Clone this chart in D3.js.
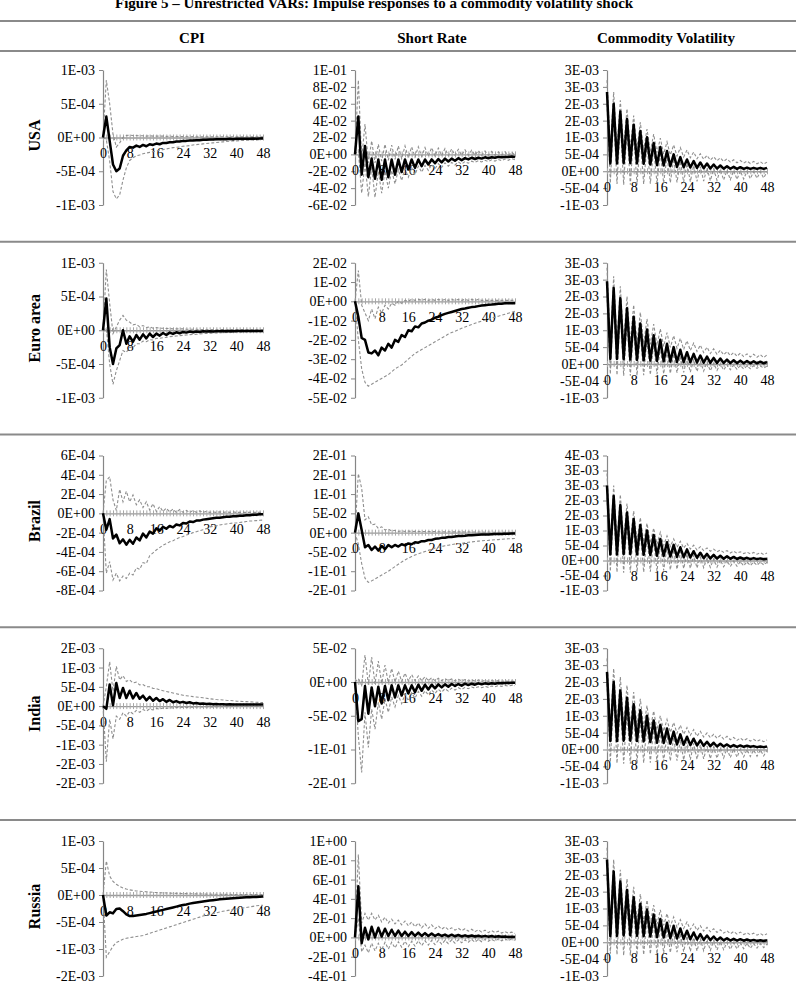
<!DOCTYPE html>
<html>
<head>
<meta charset="utf-8">
<script src="https://cdn.jsdelivr.net/npm/d3@7"></script>
<style>
  body { margin: 0; background: #fff; }
  svg { display: block; font-family: "Liberation Serif", "Times New Roman", serif; }
</style>
</head>
<body>
<svg id="chart" width="796" height="1007"></svg>
<script>
// horizons 0..48 (months after the shock)
const horizons = d3.range(0, 49);
const rowNames = ["USA", "Euro area", "Brazil", "India", "Russia"];
const colNames = ["CPI", "Short Rate", "Commodity Volatility"];

// ---- USA ---- (CPI & volatility in 1E-04, rate in 1E-02)
const usaCpi = [0, 3.1, -0.5, -4.0, -5.0, -4.6, -2.7,
  -1.9, -1.4, -1.5, -1.2, -1.4, -1.1, -1.3,
  -1.0, -1.1, -0.9, -1.0, -0.8, -0.8, -0.7,
  -0.7, -0.6, -0.6, -0.5, -0.5, -0.45, -0.45,
  -0.4, -0.4, -0.35, -0.35, -0.3, -0.3, -0.25,
  -0.25, -0.25, -0.25, -0.2, -0.25, -0.2, -0.2,
  -0.2, -0.2, -0.2, -0.15, -0.2, -0.15, -0.1];
const usaCpiHi = [0, 8.5, 5.0, 0.5, -1.4, -0.8, 0.0,
  0.3, 0.35, 0.3, 0.3, 0.25, 0.25, 0.2,
  0.25, 0.2, 0.2, 0.2, 0.2, 0.15, 0.2,
  0.15, 0.15, 0.15, 0.15, 0.15, 0.1, 0.15,
  0.1, 0.1, 0.1, 0.1, 0.1, 0.1, 0.1,
  0.1, 0.1, 0.1, 0.1, 0.1, 0.1, 0.1,
  0.1, 0.1, 0.1, 0.1, 0.1, 0.1, 0.1];
const usaCpiLo = [0, -0.3, -3.5, -8.0, -9.1, -8.5, -6.3,
  -4.5, -3.4, -3.0, -2.7, -2.6, -2.4, -2.3,
  -2.2, -2.1, -2.0, -1.9, -1.8, -1.7, -1.6,
  -1.5, -1.45, -1.4, -1.3, -1.25, -1.2, -1.1,
  -1.05, -1.0, -0.95, -0.9, -0.85, -0.8, -0.75,
  -0.7, -0.65, -0.6, -0.55, -0.5, -0.5, -0.45,
  -0.45, -0.4, -0.4, -0.35, -0.35, -0.3, -0.3];

const usaRate = [0, 4.5, -2.4, 1.0, -2.7, -0.5, -2.9,
  -0.6, -3.0, -0.6, -2.7, -0.6, -2.4, -0.6,
  -2.1, -0.6, -1.8, -0.6, -1.6, -0.6, -1.4,
  -0.6, -1.2, -0.6, -1.05, -0.55, -0.95, -0.5,
  -0.85, -0.5, -0.75, -0.45, -0.7, -0.45, -0.6,
  -0.4, -0.55, -0.4, -0.5, -0.35, -0.45, -0.35,
  -0.4, -0.3, -0.35, -0.3, -0.3, -0.25, -0.3];
const usaRateHi = [0, 8.8, -0.5, 3.6, -1.0, 1.6, -1.0,
  1.2, -0.8, 1.2, -0.7, 1.1, -0.6, 1.0,
  -0.5, 1.0, -0.4, 0.9, -0.3, 0.9, -0.25,
  0.8, -0.2, 0.8, -0.2, 0.75, -0.15, 0.7,
  -0.15, 0.65, -0.1, 0.6, -0.1, 0.55, -0.1,
  0.5, -0.1, 0.45, -0.1, 0.4, -0.1, 0.35,
  -0.1, 0.3, -0.1, 0.3, -0.1, 0.25, -0.1];
const usaRateLo = [0, 0.5, -4.6, -1.0, -5.0, -1.5, -5.1,
  -2.0, -4.6, -2.0, -4.0, -1.9, -3.5, -1.8,
  -3.1, -1.7, -2.7, -1.6, -2.4, -1.4, -2.1,
  -1.3, -1.9, -1.2, -1.7, -1.1, -1.55, -1.0,
  -1.4, -0.95, -1.25, -0.9, -1.15, -0.85, -1.05,
  -0.8, -0.95, -0.75, -0.9, -0.7, -0.85, -0.65,
  -0.8, -0.6, -0.75, -0.55, -0.7, -0.5, -0.65];

const usaVol = [23.5, 2.3, 20, 2.3, 17.7, 2.4, 15.5,
  2.4, 13.8, 2.3, 11.9, 2.2, 10.1, 2.0,
  8.4, 1.8, 7.2, 1.7, 6.0, 1.5, 5.0,
  1.3, 4.2, 1.2, 3.5, 1.1, 3.0, 1.0,
  2.6, 0.9, 2.3, 0.8, 2.0, 0.8, 1.7,
  0.75, 1.5, 0.75, 1.3, 0.7, 1.2, 0.7,
  1.1, 0.7, 1.0, 0.7, 1.0, 0.7, 1.0];
const usaVolHi = [27, 6, 23.5, 6.5, 21, 6.8, 18.5,
  6.8, 16.5, 6.6, 14.5, 6.2, 12.5, 5.8,
  11, 5.5, 9.8, 5.1, 8.7, 4.8, 7.8,
  4.5, 7, 4.2, 6.3, 4, 5.7, 3.7,
  5.2, 3.5, 4.7, 3.3, 4.3, 3.1, 4,
  2.9, 3.7, 2.7, 3.4, 2.5, 3.2, 2.4,
  3, 2.3, 2.9, 2.2, 2.8, 2.1, 2.7];
const usaVolLo = [20, -3.5, 16.5, -3.8, 14.5, -4.0, 12.5,
  -4.0, 11, -3.9, 9.5, -3.8, 8, -3.7,
  6.7, -3.6, 5.6, -3.5, 4.6, -3.4, 3.7,
  -3.3, 3.0, -3.2, 2.3, -3.1, 1.8, -3.0,
  1.4, -2.9, 1.0, -2.8, 0.7, -2.7, 0.5,
  -2.6, 0.3, -2.5, 0.2, -2.4, 0.1, -2.3,
  0, -2.2, -0.1, -2.1, -0.1, -2.0, -0.2];

// ---- Euro area ---- (CPI & volatility in 1E-04, rate in 1E-02)
const euCpi = [0, 4.7, -2.5, -5.0, -2.7, -2.2, 0,
  -2.0, -0.9, -1.7, -0.7, -1.4, -0.6, -1.2,
  -0.5, -1.0, -0.5, -0.8, -0.4, -0.7, -0.35,
  -0.55, -0.3, -0.45, -0.25, -0.35, -0.2, -0.3,
  -0.2, -0.25, -0.15, -0.2, -0.15, -0.2, -0.15,
  -0.15, -0.1, -0.15, -0.1, -0.15, -0.1, -0.1,
  -0.1, -0.1, -0.1, -0.1, -0.1, -0.1, -0.1];
const euCpiHi = [0, 9.0, 4.0, -0.5, 0.5, 1.5, 2.2,
  1.5, 1.2, 0.8, 0.9, 0.5, 0.7, 0.4,
  0.5, 0.3, 0.4, 0.3, 0.3, 0.25, 0.25,
  0.2, 0.2, 0.2, 0.2, 0.15, 0.15, 0.15,
  0.15, 0.1, 0.1, 0.1, 0.1, 0.1, 0.1,
  0.1, 0.1, 0.1, 0.1, 0.1, 0.1, 0.1,
  0.1, 0.1, 0.1, 0.05, 0.1, 0.05, 0.05];
const euCpiLo = [0, 0.3, -5.0, -8.0, -6.0, -4.5, -3.0,
  -3.3, -2.5, -2.6, -2.0, -2.0, -1.6, -1.7,
  -1.4, -1.45, -1.2, -1.2, -1.1, -1.05, -0.95,
  -0.9, -0.85, -0.8, -0.75, -0.7, -0.65, -0.62,
  -0.6, -0.55, -0.5, -0.48, -0.45, -0.43, -0.4,
  -0.38, -0.36, -0.34, -0.32, -0.3, -0.3, -0.28,
  -0.27, -0.26, -0.25, -0.24, -0.23, -0.22, -0.2];

const euRate = [0, -0.8, -1.9, -2.0, -2.65, -2.7, -2.55,
  -2.8, -2.4, -2.55, -2.2, -2.4, -2.0, -2.1,
  -1.75, -1.85, -1.5, -1.55, -1.3, -1.35, -1.15,
  -1.1, -1.0, -0.95, -0.85, -0.8, -0.72, -0.65,
  -0.6, -0.55, -0.5, -0.45, -0.4, -0.37, -0.33,
  -0.3, -0.28, -0.25, -0.22, -0.2, -0.18, -0.17,
  -0.15, -0.13, -0.12, -0.1, -0.1, -0.1, -0.1];
const euRateHi = [0, 1.6, -0.2, -0.6, -1.0, -0.4, -0.9,
  -0.3, -0.6, -0.2, -0.4, -0.1, -0.2, 0,
  -0.1, 0.05, 0, 0.1, 0.05, 0.1, 0.05,
  0.1, 0.05, 0.1, 0.05, 0.1, 0.05, 0.1,
  0.05, 0.1, 0.05, 0.1, 0.05, 0.1, 0.05,
  0.1, 0.05, 0.1, 0.05, 0.05, 0.05, 0.05,
  0.05, 0.05, 0.05, 0.05, 0.05, 0.05, 0.05];
const euRateLo = [0, -2.0, -3.5, -4.2, -4.4, -4.3, -4.2,
  -4.1, -4.0, -3.9, -3.8, -3.65, -3.5, -3.4,
  -3.3, -3.15, -3.0, -2.85, -2.7, -2.6, -2.5,
  -2.4, -2.3, -2.2, -2.1, -2.0, -1.9, -1.8,
  -1.7, -1.62, -1.55, -1.47, -1.4, -1.33, -1.27,
  -1.2, -1.14, -1.08, -1.02, -0.97, -0.92, -0.87,
  -0.82, -0.77, -0.72, -0.67, -0.62, -0.57, -0.52];

const euVol = [24.5, 1.5, 22.5, 1.5, 19.5, 1.4, 16.5,
  1.3, 14, 1.2, 12, 1.1, 10.2, 1.0,
  8.5, 0.9, 7.2, 0.8, 6, 0.7, 5,
  0.6, 4.2, 0.55, 3.5, 0.5, 3, 0.45,
  2.5, 0.4, 2.2, 0.35, 1.8, 0.3, 1.6,
  0.3, 1.3, 0.25, 1.1, 0.25, 1.0, 0.2,
  0.9, 0.2, 0.8, 0.2, 0.7, 0.2, 0.6];
const euVolHi = [28.5, 5.5, 26, 6, 23, 6.3, 20,
  6.3, 17.5, 6.2, 15.3, 6.0, 13.4, 5.8,
  11.8, 5.5, 10.4, 5.2, 9.3, 4.9, 8.4,
  4.6, 7.6, 4.3, 6.9, 4.0, 6.2, 3.7,
  5.6, 3.4, 5.0, 3.1, 4.5, 2.9, 4.1,
  2.7, 3.7, 2.5, 3.4, 2.3, 3.2, 2.2,
  3.0, 2.1, 2.9, 2.0, 2.8, 1.9, 2.7];
const euVolLo = [20.5, -3, 19, -3.3, 16, -3.5, 13,
  -3.5, 10.8, -3.4, 9, -3.3, 7.4, -3.2,
  6, -3.0, 4.8, -2.9, 3.8, -2.8, 3,
  -2.6, 2.3, -2.5, 1.7, -2.4, 1.2, -2.2,
  0.8, -2.1, 0.5, -2.0, 0.2, -1.9, 0,
  -1.8, -0.2, -1.7, -0.3, -1.6, -0.4, -1.5,
  -0.5, -1.4, -0.5, -1.3, -0.6, -1.2, -0.6];

// ---- Brazil ---- (CPI & volatility in 1E-04, rate in 1E-02)
const brCpi = [0, -1.7, -0.6, -2.6, -2.2, -3.1, -2.7,
  -3.25, -2.75, -3.15, -2.5, -2.8, -2.1, -2.5,
  -1.9, -2.1, -1.55, -1.8, -1.4, -1.6, -1.3,
  -1.45, -1.15, -1.25, -1.0, -1.05, -0.85, -0.9,
  -0.75, -0.75, -0.65, -0.6, -0.55, -0.5, -0.45,
  -0.45, -0.4, -0.35, -0.35, -0.3, -0.3, -0.25,
  -0.25, -0.2, -0.2, -0.15, -0.15, -0.1, -0.1];
const brCpiHi = [0, 3.4, 3.8, 1.4, 0.3, 2.5, 1.2,
  2.3, 1.2, 1.9, 0.9, 1.4, 0.6, 1.2,
  0.35, 1.0, 0.2, 0.7, 0.2, 0.55, 0.15,
  0.45, 0.1, 0.4, 0.1, 0.3, 0.1, 0.3,
  0.1, 0.25, 0.1, 0.2, 0.1, 0.15, 0.1,
  0.15, 0.1, 0.15, 0.1, 0.15, 0.1, 0.1,
  0.1, 0.1, 0.1, 0.1, 0.1, 0.1, 0.1];
const brCpiLo = [0, -6.2, -5.0, -6.9, -6.2, -7.0, -6.5,
  -6.75, -6.2, -6.4, -5.65, -5.8, -5.1, -5.2,
  -4.4, -4.1, -3.8, -3.55, -3.3, -3.15, -2.95,
  -2.85, -2.65, -2.5, -2.4, -2.25, -2.15, -2.0,
  -1.9, -1.8, -1.7, -1.6, -1.4, -1.35, -1.3,
  -1.2, -1.15, -1.1, -1.05, -1.0, -1.0, -0.95,
  -0.9, -0.85, -0.8, -0.78, -0.75, -0.72, -0.7];

const brRate = [0, 5.0, 0.7, -3.8, -3.2, -4.5, -3.6,
  -4.65, -3.45, -4.3, -3.2, -3.8, -3.2, -3.6,
  -3.0, -3.3, -2.8, -3.0, -2.5, -2.6, -2.2,
  -2.2, -1.9, -1.9, -1.6, -1.55, -1.35, -1.3,
  -1.15, -1.1, -1.0, -0.9, -0.85, -0.8, -0.7,
  -0.7, -0.6, -0.55, -0.5, -0.5, -0.45, -0.4,
  -0.38, -0.35, -0.32, -0.3, -0.28, -0.25, -0.25];
const brRateHi = [0, 15.3, 11.5, 3.3, 4.1, 2.0, 2.2,
  1.1, 1.5, 0.7, 0.9, 0.4, 0.6, 0.3,
  0.5, 0.3, 0.4, 0.3, 0.35, 0.3, 0.3,
  0.3, 0.3, 0.25, 0.3, 0.25, 0.25, 0.2,
  0.25, 0.2, 0.2, 0.2, 0.2, 0.15, 0.2,
  0.15, 0.15, 0.15, 0.15, 0.1, 0.15, 0.1,
  0.1, 0.1, 0.1, 0.1, 0.1, 0.1, 0.1];
const brRateLo = [0, -3.0, -8.0, -11.8, -12.9, -12.5, -12.0,
  -11.5, -11.0, -10.5, -10.0, -9.4, -8.8, -8.2,
  -7.6, -7.1, -6.6, -6.2, -5.8, -5.5, -5.2,
  -4.9, -4.6, -4.3, -4.0, -3.8, -3.6, -3.4,
  -3.25, -3.1, -2.95, -2.85, -2.75, -2.6, -2.5,
  -2.4, -2.3, -2.2, -2.1, -2.05, -2.0, -1.9,
  -1.85, -1.8, -1.7, -1.65, -1.6, -1.55, -1.5];

const brVol = [25, 2, 21.5, 2, 18.5, 2.1, 16,
  2.1, 13.8, 2, 11.8, 1.9, 10, 1.8,
  8.5, 1.6, 7.2, 1.5, 6.1, 1.3, 5.2,
  1.2, 4.4, 1.1, 3.7, 1.0, 3.1, 0.9,
  2.6, 0.8, 2.2, 0.7, 1.9, 0.65, 1.6,
  0.6, 1.4, 0.55, 1.2, 0.5, 1.0, 0.5,
  0.9, 0.45, 0.8, 0.45, 0.7, 0.4, 0.6];
const brVolHi = [29, 6, 25, 6.4, 22, 6.6, 19,
  6.6, 16.5, 6.4, 14.3, 6.1, 12.4, 5.8,
  10.8, 5.4, 9.4, 5.0, 8.2, 4.7, 7.2,
  4.4, 6.4, 4.1, 5.7, 3.8, 5.1, 3.5,
  4.6, 3.3, 4.2, 3.1, 3.8, 2.9, 3.5,
  2.7, 3.3, 2.5, 3.1, 2.4, 2.9, 2.3,
  2.8, 2.2, 2.7, 2.1, 2.6, 2.0, 2.5];
const brVolLo = [21, -3.6, 18, -3.9, 15.5, -4.1, 13.2,
  -4.1, 11.3, -4.0, 9.6, -3.9, 8.0, -3.7,
  6.7, -3.5, 5.5, -3.3, 4.5, -3.1, 3.6,
  -2.9, 2.9, -2.7, 2.2, -2.6, 1.7, -2.5,
  1.2, -2.4, 0.8, -2.3, 0.5, -2.2, 0.2,
  -2.1, 0, -2.0, -0.2, -1.9, -0.3, -1.8,
  -0.4, -1.7, -0.5, -1.6, -0.5, -1.5, -0.6];

// ---- India ---- (CPI & volatility in 1E-04, rate in 1E-02)
const inCpi = [0, -0.7, 5.6, 0.2, 6.0, 2.1, 4.7,
  2.1, 4.0, 2.0, 3.4, 1.9, 2.7, 1.5,
  2.4, 1.4, 2.1, 1.3, 1.8, 1.1, 1.6,
  1.0, 1.3, 0.9, 1.1, 0.8, 1.0, 0.7,
  0.8, 0.6, 0.7, 0.55, 0.6, 0.5, 0.55,
  0.45, 0.5, 0.4, 0.45, 0.4, 0.4, 0.4,
  0.4, 0.4, 0.4, 0.4, 0.4, 0.4, 0.4];
const inCpiHi = [0, 5.0, 11.5, 3.8, 10.3, 6.8, 7.9,
  6.4, 6.8, 6.0, 6.2, 5.5, 5.6, 5.0,
  5.0, 4.6, 4.5, 4.2, 4.0, 3.8, 3.6,
  3.4, 3.2, 3.0, 2.8, 2.7, 2.6, 2.45,
  2.35, 2.25, 2.15, 2.05, 1.9, 1.8, 1.7,
  1.65, 1.6, 1.5, 1.45, 1.4, 1.3, 1.25,
  1.2, 1.15, 1.1, 1.05, 1.0, 0.95, 0.9];
const inCpiLo = [0, -14.4, -3.4, -8.5, -2.6, -3.4, -1.7,
  -2.6, -1.4, -2.0, -1.1, -1.6, -0.9, -1.3,
  -0.7, -1.0, -0.6, -0.8, -0.5, -0.6, -0.4,
  -0.5, -0.35, -0.4, -0.3, -0.35, -0.3, -0.3,
  -0.25, -0.25, -0.2, -0.25, -0.2, -0.2, -0.2,
  -0.15, -0.15, -0.15, -0.15, -0.1, -0.1, -0.1,
  -0.1, -0.1, -0.1, -0.1, -0.1, -0.1, -0.1];

const inRate = [0, -5.8, -5.5, -0.6, -4.7, -0.8, -3.6,
  -0.7, -3.2, -0.6, -2.7, -0.5, -2.3, -0.5,
  -2.0, -0.5, -1.7, -0.5, -1.5, -0.4, -1.3,
  -0.4, -1.1, -0.4, -0.95, -0.35, -0.8, -0.35,
  -0.7, -0.3, -0.6, -0.3, -0.55, -0.25, -0.45,
  -0.25, -0.4, -0.2, -0.35, -0.2, -0.3, -0.2,
  -0.25, -0.15, -0.2, -0.15, -0.15, -0.1, -0.1];
const inRateHi = [0, 0.5, -0.5, 4.0, -0.4, 3.7, -0.3,
  3.1, -0.2, 2.5, -0.1, 2.0, 0, 1.6,
  0.1, 1.3, 0.15, 1.1, 0.2, 0.9, 0.2,
  0.8, 0.2, 0.65, 0.2, 0.55, 0.2, 0.5,
  0.2, 0.45, 0.15, 0.4, 0.15, 0.35, 0.15,
  0.3, 0.15, 0.3, 0.1, 0.25, 0.1, 0.2,
  0.1, 0.2, 0.1, 0.15, 0.1, 0.15, 0.1];
const inRateLo = [0, -8.0, -13.4, -4.5, -9.7, -4.0, -7.0,
  -3.0, -5.5, -2.5, -4.5, -2.2, -3.7, -2.0,
  -3.2, -1.8, -2.8, -1.6, -2.4, -1.4, -2.1,
  -1.3, -1.9, -1.2, -1.7, -1.1, -1.5, -1.0,
  -1.35, -0.9, -1.2, -0.85, -1.1, -0.8, -1.0,
  -0.75, -0.9, -0.7, -0.85, -0.65, -0.8, -0.6,
  -0.7, -0.55, -0.65, -0.5, -0.6, -0.5, -0.55];

const inVol = [23, 2.5, 20, 2.5, 17.5, 2.6, 15.3,
  2.6, 13.4, 2.5, 11.6, 2.4, 10, 2.2,
  8.6, 2.0, 7.3, 1.9, 6.2, 1.7, 5.3,
  1.5, 4.5, 1.4, 3.8, 1.3, 3.2, 1.2,
  2.7, 1.1, 2.3, 1.0, 2.0, 0.9, 1.7,
  0.9, 1.5, 0.8, 1.3, 0.8, 1.2, 0.8,
  1.1, 0.8, 1.0, 0.7, 0.9, 0.7, 0.9];
const inVolHi = [27, 6.5, 24, 7, 21.5, 7.2, 19,
  7.2, 17, 7.0, 15, 6.6, 13, 6.2,
  11.4, 5.8, 10, 5.4, 8.9, 5.1, 8,
  4.8, 7.2, 4.5, 6.5, 4.2, 5.9, 3.9,
  5.4, 3.7, 4.9, 3.5, 4.5, 3.3, 4.2,
  3.1, 3.9, 2.9, 3.6, 2.7, 3.4, 2.6,
  3.2, 2.5, 3.0, 2.4, 2.9, 2.3, 2.8];
const inVolLo = [19.5, -3.8, 16, -4.1, 14, -4.2, 12,
  -4.2, 10.5, -4.1, 9, -4.0, 7.6, -3.9,
  6.4, -3.7, 5.3, -3.5, 4.4, -3.4, 3.6,
  -3.3, 2.9, -3.1, 2.3, -3.0, 1.8, -2.9,
  1.4, -2.8, 1.1, -2.7, 0.8, -2.6, 0.5,
  -2.5, 0.3, -2.4, 0.2, -2.3, 0.1, -2.2,
  0, -2.1, -0.1, -2.0, -0.1, -1.9, -0.2];

// ---- Russia ---- (CPI & volatility in 1E-04, rate in 1E-01)
const ruCpi = [0, -3.8, -3.2, -3.4, -2.6, -2.5, -3.0,
  -3.6, -3.9, -3.9, -3.8, -3.7, -3.6, -3.5,
  -3.35, -3.2, -3.05, -2.9, -2.75, -2.6, -2.45,
  -2.3, -2.15, -2.0, -1.85, -1.75, -1.6, -1.5,
  -1.4, -1.3, -1.2, -1.1, -1.0, -0.95, -0.9,
  -0.8, -0.75, -0.7, -0.65, -0.6, -0.55, -0.5,
  -0.45, -0.42, -0.4, -0.37, -0.35, -0.32, -0.3];
const ruCpiHi = [0, 6.3, 3.5, 2.5, 2.0, 1.6, 1.3,
  1.1, 0.95, 0.85, 0.75, 0.7, 0.65, 0.6,
  0.55, 0.5, 0.45, 0.42, 0.4, 0.37, 0.35,
  0.32, 0.3, 0.28, 0.26, 0.25, 0.24, 0.22,
  0.2, 0.2, 0.18, 0.17, 0.16, 0.15, 0.14,
  0.13, 0.12, 0.12, 0.11, 0.1, 0.1, 0.1,
  0.1, 0.1, 0.1, 0.1, 0.1, 0.1, 0.1];
const ruCpiLo = [0, -11.5, -10.5, -9.5, -8.8, -8.5, -8.2,
  -8.0, -7.9, -7.8, -7.7, -7.6, -7.5, -7.3,
  -7.1, -6.9, -6.7, -6.5, -6.3, -6.1, -5.9,
  -5.7, -5.5, -5.3, -5.1, -4.9, -4.7, -4.5,
  -4.3, -4.1, -3.9, -3.75, -3.6, -3.45, -3.3,
  -3.15, -3.0, -2.9, -2.8, -2.7, -2.6, -2.5,
  -2.4, -2.3, -2.2, -2.1, -2.0, -1.95, -1.9];

const ruRate = [0, 5.3, -0.6, 1.0, -0.2, 1.1, 0.0,
  1.0, 0.1, 0.9, 0.15, 0.8, 0.15, 0.7,
  0.15, 0.6, 0.15, 0.55, 0.15, 0.5, 0.15,
  0.45, 0.15, 0.4, 0.15, 0.35, 0.15, 0.3,
  0.12, 0.28, 0.12, 0.25, 0.1, 0.22, 0.1,
  0.2, 0.1, 0.18, 0.08, 0.16, 0.08, 0.14,
  0.06, 0.12, 0.06, 0.1, 0.05, 0.08, 0.05];
const ruRateHi = [0, 8.6, 1.5, 2.5, 1.8, 2.5, 1.8,
  2.3, 1.6, 2.1, 1.5, 1.9, 1.4, 1.8,
  1.3, 1.7, 1.2, 1.6, 1.1, 1.5, 1.0,
  1.4, 0.95, 1.3, 0.9, 1.2, 0.85, 1.1,
  0.8, 1.0, 0.75, 0.95, 0.7, 0.9, 0.65,
  0.85, 0.6, 0.8, 0.55, 0.75, 0.5, 0.7,
  0.5, 0.65, 0.45, 0.6, 0.45, 0.55, 0.4];
const ruRateLo = [0, 2.0, -1.5, -0.8, -1.6, -0.6, -1.4,
  -0.6, -1.3, -0.5, -1.2, -0.5, -1.1, -0.45,
  -1.0, -0.4, -0.95, -0.4, -0.9, -0.35, -0.85,
  -0.35, -0.8, -0.3, -0.75, -0.3, -0.7, -0.3,
  -0.65, -0.25, -0.6, -0.25, -0.55, -0.25, -0.5,
  -0.2, -0.5, -0.2, -0.45, -0.2, -0.4, -0.2,
  -0.4, -0.15, -0.35, -0.15, -0.35, -0.15, -0.3];

const ruVol = [24.5, 1.8, 21, 1.9, 18, 2.0, 15.5,
  2.0, 13.3, 1.9, 11.4, 1.8, 9.7, 1.7,
  8.2, 1.5, 6.9, 1.4, 5.8, 1.2, 4.9,
  1.1, 4.1, 1.0, 3.4, 0.9, 2.9, 0.8,
  2.4, 0.7, 2.0, 0.65, 1.7, 0.6, 1.4,
  0.55, 1.2, 0.5, 1.0, 0.5, 0.9, 0.45,
  0.8, 0.45, 0.7, 0.4, 0.6, 0.4, 0.6];
const ruVolHi = [28, 5.8, 24.5, 6.2, 21.5, 6.4, 18.8,
  6.4, 16.4, 6.2, 14.3, 5.9, 12.5, 5.6,
  11, 5.3, 9.6, 5.0, 8.5, 4.7, 7.5,
  4.4, 6.7, 4.1, 6.0, 3.8, 5.4, 3.5,
  4.9, 3.3, 4.4, 3.1, 4.0, 2.9, 3.7,
  2.7, 3.4, 2.5, 3.2, 2.4, 3.0, 2.3,
  2.8, 2.2, 2.7, 2.1, 2.6, 2.0, 2.5];
const ruVolLo = [20.5, -3.4, 17, -3.7, 14.5, -3.9, 12.3,
  -3.9, 10.4, -3.8, 8.8, -3.7, 7.4, -3.5,
  6.1, -3.4, 5.0, -3.2, 4.0, -3.1, 3.2,
  -2.9, 2.5, -2.8, 1.9, -2.7, 1.4, -2.6,
  1.0, -2.5, 0.7, -2.4, 0.4, -2.3, 0.2,
  -2.2, 0, -2.1, -0.1, -2.0, -0.2, -1.9,
  -0.3, -1.8, -0.4, -1.7, -0.4, -1.6, -0.5];

// axis ranges (in the same units as the arrays)
const panels = [
  { row: 0, col: 0, unit: 1e-4, min: -10, max: 10, step: 5, mid: usaCpi, hi: usaCpiHi, lo: usaCpiLo },
  { row: 0, col: 1, unit: 1e-2, min: -6, max: 10, step: 2, mid: usaRate, hi: usaRateHi, lo: usaRateLo },
  { row: 0, col: 2, unit: 1e-4, min: -10, max: 30, step: 5, mid: usaVol, hi: usaVolHi, lo: usaVolLo },
  { row: 1, col: 0, unit: 1e-4, min: -10, max: 10, step: 5, mid: euCpi, hi: euCpiHi, lo: euCpiLo },
  { row: 1, col: 1, unit: 1e-2, min: -5, max: 2, step: 1, mid: euRate, hi: euRateHi, lo: euRateLo },
  { row: 1, col: 2, unit: 1e-4, min: -10, max: 30, step: 5, mid: euVol, hi: euVolHi, lo: euVolLo },
  { row: 2, col: 0, unit: 1e-4, min: -8, max: 6, step: 2, mid: brCpi, hi: brCpiHi, lo: brCpiLo },
  { row: 2, col: 1, unit: 1e-2, min: -15, max: 20, step: 5, mid: brRate, hi: brRateHi, lo: brRateLo },
  { row: 2, col: 2, unit: 1e-4, min: -10, max: 35, step: 5, mid: brVol, hi: brVolHi, lo: brVolLo },
  { row: 3, col: 0, unit: 1e-4, min: -20, max: 15, step: 5, mid: inCpi, hi: inCpiHi, lo: inCpiLo },
  { row: 3, col: 1, unit: 1e-2, min: -15, max: 5, step: 5, mid: inRate, hi: inRateHi, lo: inRateLo },
  { row: 3, col: 2, unit: 1e-4, min: -10, max: 30, step: 5, mid: inVol, hi: inVolHi, lo: inVolLo },
  { row: 4, col: 0, unit: 1e-4, min: -15, max: 10, step: 5, mid: ruCpi, hi: ruCpiHi, lo: ruCpiLo },
  { row: 4, col: 1, unit: 1e-1, min: -4, max: 10, step: 2, mid: ruRate, hi: ruRateHi, lo: ruRateLo },
  { row: 4, col: 2, unit: 1e-4, min: -10, max: 30, step: 5, mid: ruVol, hi: ruVolHi, lo: ruVolLo }
];

// Excel style "0E+00" labels
function sci(v) {
  if (Math.abs(v) < 1e-12) return "0E+00";
  let e = Math.floor(Math.log10(Math.abs(v)));
  let m = Math.round(Math.abs(v) / Math.pow(10, e) + 1e-9);
  if (m >= 10) { m = m / 10; e += 1; }
  const es = (e < 0 ? "-" : "+") + String(Math.abs(e)).padStart(2, "0");
  return (v < 0 ? "-" : "") + m + "E" + es;
}

const svg = d3.select("#chart");
const W = 796;
const colX = [103, 355, 607];
const colMid = [192, 432, 666];
const plotW = 160, plotH = 135;
const rowTop = r => 70 + r * 192.75;

svg.append("rect").attr("width", W).attr("height", 1007).attr("fill", "#fff");

svg.append("text")
    .attr("x", 115).attr("y", 8)
    .attr("font-size", 15).attr("font-weight", "bold")
    .text("Figure 5 \u2013 Unrestricted VARs: Impulse responses to a commodity volatility shock");

// table rules
const rules = [21, 51].concat(d3.range(1, 5).map(r => rowTop(r) - 21));
svg.selectAll("line.rule")
  .data(rules)
  .enter().append("line")
    .attr("class", "rule")
    .attr("x1", 0).attr("x2", W)
    .attr("y1", d => d).attr("y2", d => d)
    .attr("stroke", "#8a8a8a").attr("stroke-width", 2);

svg.selectAll("text.head")
  .data(colNames)
  .enter().append("text")
    .attr("class", "head")
    .attr("x", (d, i) => colMid[i]).attr("y", 43)
    .attr("text-anchor", "middle")
    .attr("font-size", 15).attr("font-weight", "bold")
    .text(d => d);

svg.selectAll("text.rowlab")
  .data(rowNames)
  .enter().append("text")
    .attr("class", "rowlab")
    .attr("transform", (d, i) => "translate(40," + (rowTop(i) + plotH / 2 - 2) + ") rotate(-90)")
    .attr("text-anchor", "middle")
    .attr("font-size", 16).attr("font-weight", "bold")
    .text(d => d);

panels.forEach(function(p) {
    var x0 = colX[p.col], top = rowTop(p.row);
    var g = svg.append("g").attr("transform", "translate(" + x0 + "," + top + ")");

    var x = d3.scaleLinear().domain([0, 48]).range([0, plotW]);
    var y = d3.scaleLinear().domain([p.min, p.max]).range([plotH, 0]);
    var n = Math.round((p.max - p.min) / p.step);
    var ticks = d3.range(0, n + 1).map(i => +(p.min + i * p.step).toFixed(6));

    // value axis
    var ya = g.append("g")
        .call(d3.axisLeft(y).tickValues(ticks).tickSize(4).tickSizeOuter(0).tickPadding(4)
            .tickFormat(d => sci(d * p.unit)));
    ya.select(".domain").attr("stroke", "#868686").attr("stroke-width", 1.2);
    ya.selectAll(".tick line").attr("stroke", "#868686");
    ya.selectAll("text")
        .attr("font-family", "Liberation Serif, Times New Roman, serif")
        .attr("font-size", 14).attr("fill", "#000");
    ya.attr("font-family", null).attr("font-size", null);

    // horizon axis on the zero line, cross tick marks at every month
    var xa = g.append("g")
        .attr("transform", "translate(0," + y(0) + ")")
        .call(d3.axisBottom(x).tickValues(horizons).tickSize(3).tickSizeOuter(0)
            .tickFormat(d => d % 8 === 0 ? d : ""));
    xa.select(".domain").attr("stroke", "#9a9a9a").attr("stroke-width", 1.3);
    xa.selectAll(".tick line").attr("y1", -3).attr("stroke", "#a8a8a8");
    xa.selectAll("text")
        .attr("y", 20.5).attr("dy", null)
        .attr("font-family", "Liberation Serif, Times New Roman, serif")
        .attr("font-size", 14).attr("fill", "#000");
    xa.attr("font-family", null).attr("font-size", null);

    var line = d3.line().x((d, i) => x(horizons[i])).y(d => y(d));

    g.selectAll("path.band")
      .data([p.hi, p.lo])
      .enter().append("path")
        .attr("class", "band")
        .attr("d", line)
        .attr("fill", "none")
        .attr("stroke", "#8f8f8f")
        .attr("stroke-width", 1.1)
        .attr("stroke-dasharray", "3,2");

    g.append("path")
        .datum(p.mid)
        .attr("d", line)
        .attr("fill", "none")
        .attr("stroke", "#000")
        .attr("stroke-width", 2.5)
        .attr("stroke-linejoin", "round");
});
</script>
</body>
</html>
